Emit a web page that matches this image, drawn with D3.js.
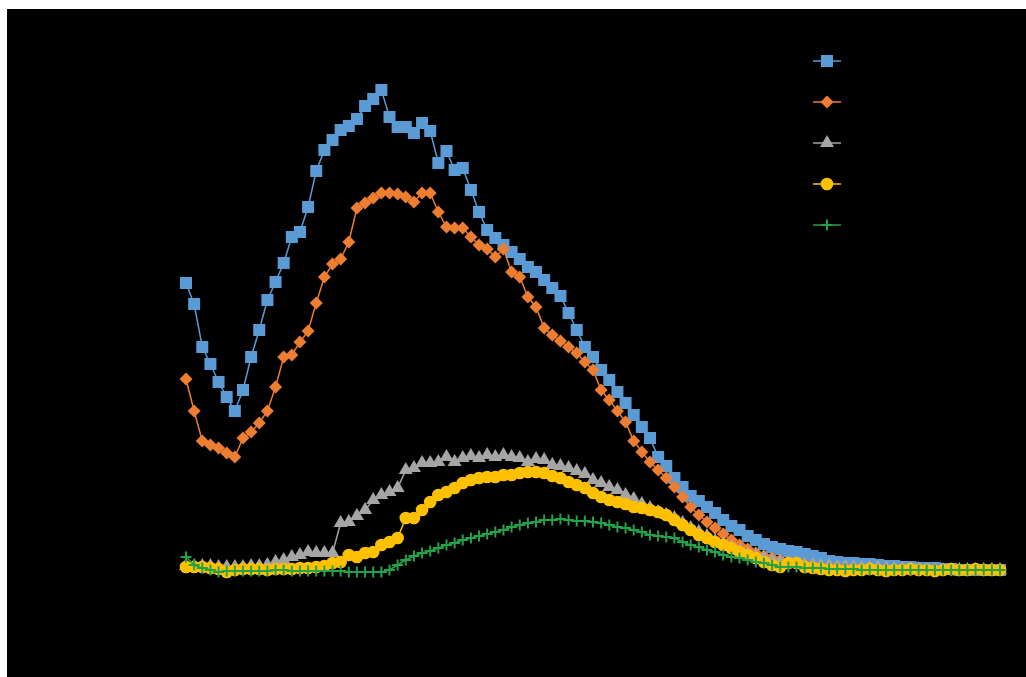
<!DOCTYPE html>
<html>
<head>
<meta charset="utf-8">
<script src="https://cdn.jsdelivr.net/npm/d3@7"></script>
<style>
html,body{margin:0;padding:0;background:#fff;}
svg{display:block;}
</style>
</head>
<body>
<svg id="chart" width="1026" height="677"></svg>
<script>
// Data (pixel-derived units; 0 = baseline)
const seriesNames = ["Series 1", "Series 2", "Series 3", "Series 4", "Series 5"];
const seriesColors = ["#5B9BD5", "#ED7D31", "#A5A5A5", "#FFC000", "#25A14A"];
const xTicks = [0, 10, 20, 30, 40, 50, 60, 70, 80, 90, 100];
const yTicks = [0, 20, 40, 60, 80, 100];

const bluePx = [283,304,347,364,382,397,411,390,357,330,300,282,263,237,232,207,171,150,140,130,126,119,106,99,90,117,127,127,133,123,131,163,151,170,168,190,212,230,238,245,252,259,267,272,280,288,296,313,330,347,357,370,380,392,403,415,427,438,457,466,478,487,496,501,507,513,520,526,530,536,540,544,547,549,551,552,554,556,558,561,562,563,563,564,564,565,566,566,567,567,568,568,568,569,569,570,570,570,570,570,570];
const orangePx = [379,411,441,445,448,453,457,438,432,423,411,387,357,355,342,331,303,277,264,259,242,208,203,198,193,193,194,197,202,193,193,212,227,228,228,237,245,249,257,249,272,277,297,307,328,335,341,347,353,362,370,390,400,411,422,441,452,462,470,478,487,497,507,515,522,528,534,540,545,549,553,556,558,560,562,563,564,565,566,566,567,567,568,568,568,569,569,569,569,570,570,570,570,570,570,570,570,570,570,570,570];
const grayPx = [566,566,566,566,567,567,567,567,566,566,565,562,560,557,555,552,553,553,553,523,522,516,510,500,495,492,488,470,468,463,463,462,457,462,458,456,458,455,457,455,457,458,462,459,460,465,466,468,471,474,480,483,487,490,495,499,504,508,512,515,518,523,528,532,536,541,544,547,551,554,556,558,560,562,563,564,565,565,566,566,567,567,567,568,568,568,568,569,569,569,569,570,570,570,570,570,570,570,570,570,570];
const yellowPx = [567,567,567,568,569,572,570,569,569,569,570,569,569,569,568,568,567,566,563,562,555,557,553,552,545,542,538,518,518,510,502,495,492,488,483,480,478,477,477,475,475,473,472,472,473,476,478,482,485,488,493,497,500,502,504,507,508,510,512,515,520,525,530,535,538,542,545,548,552,555,558,562,565,567,563,563,567,568,569,570,570,571,570,570,569,570,571,570,570,569,570,570,571,570,569,570,570,569,570,570,570];
const greenPx = [557,565,568,570,572,571,571,571,571,571,571,570,570,571,571,571,571,571,571,571,572,572,572,572,572,570,565,560,556,553,551,548,545,543,540,538,536,534,532,530,527,525,523,522,520,520,519,520,521,521,522,523,525,527,528,530,532,535,536,537,538,542,545,547,550,552,555,557,558,560,562,563,565,567,567,567,568,568,568,569,569,569,569,570,570,570,570,570,570,570,570,570,570,570,570,570,570,570,570,570,570];

// convert picture readings to values (0 at baseline, 100 at highest peak)
const toVal = p => (571 - p) / 4.82;
const series1 = bluePx.map(toVal);
const series2 = orangePx.map(toVal);
const series3 = grayPx.map(toVal);
const series4 = yellowPx.map(toVal);
const series5 = greenPx.map(toVal);
const allSeries = [series1, series2, series3, series4, series5];

// marker shapes
const markers = [
  { d: "M-6,-6H6V6H-6Z", fill: true },
  { d: "M0,-6.5L6.5,0L0,6.5L-6.5,0Z", fill: true },
  { d: d3.symbol().type(d3.symbolTriangle).size(85)(), fill: true },
  { d: d3.symbol().type(d3.symbolCircle).size(125)(), fill: true },
  { d: "M-5.5,0H5.5M0,-5.5V5.5", fill: false }
];

const svg = d3.select("#chart");
// black chart area
svg.append("rect").attr("x", 7).attr("y", 9).attr("width", 1019).attr("height", 668).attr("fill", "#000");

const x = d3.scaleLinear().domain([0, 100]).range([186, 1000]);
const y = d3.scaleLinear().domain([0, 110]).range([571, 571 - 110 * 4.82]);

// axes (black, as in the picture)
svg.append("g").attr("transform", "translate(0,600)")
  .call(d3.axisBottom(x).tickValues(xTicks))
  .call(g => g.selectAll("text").attr("fill", "#000").attr("font-family", "Liberation Sans, Arial").attr("font-size", 13))
  .call(g => g.selectAll("line,path").attr("stroke", "#000"));
svg.append("g").attr("transform", "translate(160,0)")
  .call(d3.axisLeft(y).tickValues(yTicks))
  .call(g => g.selectAll("text").attr("fill", "#000").attr("font-family", "Liberation Sans, Arial").attr("font-size", 13))
  .call(g => g.selectAll("line,path").attr("stroke", "#000"));

const line = d3.line().x((d, i) => x(i)).y(d => y(d));

function drawMarker(sel, k) {
  const m = markers[k];
  sel.attr("d", m.d)
    .attr("fill", m.fill ? seriesColors[k] : "none")
    .attr("stroke", m.fill ? "none" : seriesColors[k])
    .attr("stroke-width", m.fill ? 0 : 2);
}

allSeries.forEach((s, k) => {
  const g = svg.append("g");
  g.append("path").datum(s).attr("d", line).attr("fill", "none")
    .attr("stroke", seriesColors[k]).attr("stroke-width", 1.5);
  g.selectAll("path.m").data(s).join("path").attr("class", "m")
    .attr("transform", (d, i) => `translate(${x(i)},${y(d)})`)
    .call(drawMarker, k);
});

// legend
const lg = svg.append("g");
seriesNames.forEach((n, k) => {
  const ly = 61 + k * 41;
  lg.append("line").attr("x1", 813).attr("x2", 841).attr("y1", ly).attr("y2", ly)
    .attr("stroke", seriesColors[k]).attr("stroke-width", 1.5);
  lg.append("path").attr("transform", `translate(827,${ly})`).call(drawMarker, k);
  lg.append("text").attr("x", 850).attr("y", ly + 5).text(n)
    .attr("fill", "#000").attr("font-family", "Liberation Sans, Arial").attr("font-size", 14);
});
</script>
</body>
</html>
